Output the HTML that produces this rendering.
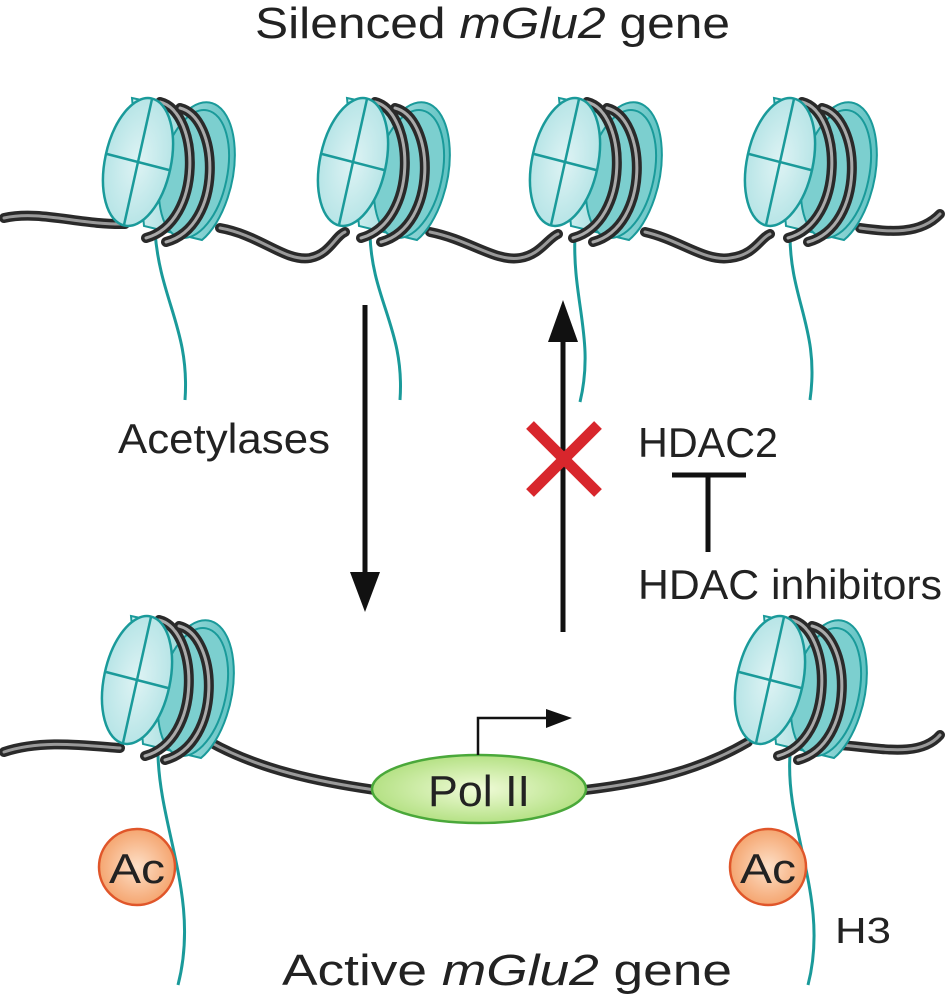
<!DOCTYPE html>
<html><head><meta charset="utf-8"><style>
html,body{margin:0;padding:0;background:#fff;}
svg{display:block;}
text{font-family:"Liberation Sans",sans-serif;fill:#222;}
</style></head><body>
<svg width="946" height="994" viewBox="0 0 946 994">
<defs>
<linearGradient id="cyl" x1="0" y1="0" x2="1" y2="0">
<stop offset="0" stop-color="#d9f2f3"/><stop offset="1" stop-color="#5fc2c2"/></linearGradient>
<radialGradient id="face" cx="0.5" cy="0.5" r="0.6"><stop offset="0" stop-color="#def3f4"/><stop offset="1" stop-color="#b0e2e4"/></radialGradient>
<radialGradient id="pol" cx="0.5" cy="0.5" r="0.6"><stop offset="0" stop-color="#f0fbd8"/><stop offset="1" stop-color="#a9dc74"/></radialGradient>
<radialGradient id="ac" cx="0.5" cy="0.5" r="0.6"><stop offset="0" stop-color="#fde0c8"/><stop offset="1" stop-color="#f39a5f"/></radialGradient>
<g id="nuc">
<path d="M -6,-64 L 50,-52 A 33 65 12 0 1 64,78 L 6,64 Z" fill="url(#cyl)" stroke="#1a9a9a" stroke-width="2"/>
<ellipse cx="56" cy="12" rx="33" ry="65" transform="rotate(12 56 12)" fill="#7ccfcf" stroke="#1a9a9a" stroke-width="2"/>
<path d="M 22,-60 C 62,-50 66,60 8,76" fill="none" stroke="#2a2a2a" stroke-width="10" stroke-linecap="round"/>
<path d="M 22,-60 C 62,-50 66,60 8,76" fill="none" stroke="#aaa" stroke-width="3" stroke-linecap="round"/>
<path d="M 42,-54 C 82,-44 86,64 28,80" fill="none" stroke="#2a2a2a" stroke-width="10" stroke-linecap="round"/>
<path d="M 42,-54 C 82,-44 86,64 28,80" fill="none" stroke="#aaa" stroke-width="3" stroke-linecap="round"/>
<ellipse cx="0" cy="0" rx="33" ry="65" transform="rotate(12)" fill="url(#face)" stroke="#1a9a9a" stroke-width="2.5"/>
<line x1="14" y1="-63" x2="-14" y2="63" stroke="#1a9a9a" stroke-width="2.5"/>
<line x1="-31" y1="-8" x2="31" y2="8" stroke="#1a9a9a" stroke-width="2.5"/>
</g>
</defs>

<text x="255" y="38" font-size="44" textLength="475" lengthAdjust="spacingAndGlyphs">Silenced <tspan font-style="italic">mGlu2</tspan> gene</text>

<path d="M 4,218 C 40,210 80,225 125,224 M 220,228 C 260,235 285,262 310,258 C 330,254 335,236 345,232 M 430,232 C 470,240 495,262 520,258 C 540,255 548,238 558,234 M 645,232 C 680,240 705,262 730,258 C 755,255 760,238 770,234 M 860,228 C 890,232 920,235 940,214" fill="none" stroke="#2a2a2a" stroke-width="10" stroke-linecap="round"/>
<path d="M 4,218 C 40,210 80,225 125,224 M 220,228 C 260,235 285,262 310,258 C 330,254 335,236 345,232 M 430,232 C 470,240 495,262 520,258 C 540,255 548,238 558,234 M 645,232 C 680,240 705,262 730,258 C 755,255 760,238 770,234 M 860,228 C 890,232 920,235 940,214" fill="none" stroke="#9a9a9a" stroke-width="3" stroke-linecap="round"/>

<path d="M 155,232 C 160,300 190,330 185,400" fill="none" stroke="#1a9a9a" stroke-width="3"/>
<path d="M 370,235 C 372,300 405,330 400,400" fill="none" stroke="#1a9a9a" stroke-width="3"/>
<path d="M 575,235 C 572,300 595,340 580,402" fill="none" stroke="#1a9a9a" stroke-width="3"/>
<path d="M 790,235 C 790,300 820,330 810,400" fill="none" stroke="#1a9a9a" stroke-width="3"/>

<use href="#nuc" x="138" y="162"/>
<use href="#nuc" x="353" y="162"/>
<use href="#nuc" x="565" y="162"/>
<use href="#nuc" x="780" y="162"/>

<g>
<line x1="365" y1="305" x2="365" y2="580" stroke="#111" stroke-width="5"/>
<path d="M 350,572 L 380,572 L 365,612 Z" fill="#111"/>
</g>
<g>
<line x1="563" y1="632" x2="563" y2="335" stroke="#111" stroke-width="5"/>
<path d="M 548,342 L 578,342 L 563,300 Z" fill="#111"/>
</g>
<g>
<line x1="530" y1="425" x2="598" y2="493" stroke="#d8262c" stroke-width="11"/>
<line x1="598" y1="425" x2="530" y2="493" stroke="#d8262c" stroke-width="11"/>
</g>
<text x="118" y="453" font-size="42" textLength="212" lengthAdjust="spacingAndGlyphs">Acetylases</text>
<text x="638" y="457" font-size="42" textLength="140" lengthAdjust="spacingAndGlyphs">HDAC2</text>
<g>
<line x1="672" y1="475" x2="746" y2="475" stroke="#111" stroke-width="5"/>
<line x1="708" y1="475" x2="708" y2="552" stroke="#111" stroke-width="5"/>
</g>
<text x="638" y="599" font-size="42" textLength="304" lengthAdjust="spacingAndGlyphs">HDAC inhibitors</text>

<path d="M 4,752 C 40,740 80,745 120,748 M 210,742 C 260,770 320,782 375,790 M 585,790 C 650,782 700,770 748,742 M 840,745 C 880,748 920,758 940,735" fill="none" stroke="#2a2a2a" stroke-width="10" stroke-linecap="round"/>
<path d="M 4,752 C 40,740 80,745 120,748 M 210,742 C 260,770 320,782 375,790 M 585,790 C 650,782 700,770 748,742 M 840,745 C 880,748 920,758 940,735" fill="none" stroke="#9a9a9a" stroke-width="3" stroke-linecap="round"/>

<path d="M 158,755 C 160,830 200,900 178,985" fill="none" stroke="#1a9a9a" stroke-width="3"/>
<path d="M 790,755 C 785,830 830,900 808,985" fill="none" stroke="#1a9a9a" stroke-width="3"/>

<use href="#nuc" x="137" y="680"/>
<use href="#nuc" x="770" y="680"/>

<g>
<ellipse cx="479" cy="789" rx="107" ry="34" fill="url(#pol)" stroke="#4aa83a" stroke-width="2.5"/>
<text x="479" y="806" font-size="44" text-anchor="middle" textLength="102" lengthAdjust="spacingAndGlyphs">Pol II</text>
</g>
<g>
<path d="M 478,755 L 478,718 L 552,718" fill="none" stroke="#111" stroke-width="2.5"/>
<path d="M 546,709 L 572,718 L 546,728 Z" fill="#111"/>
</g>

<g>
<circle cx="137" cy="867" r="38" fill="url(#ac)" stroke="#e0562a" stroke-width="2.5"/>
<text x="137" y="883" font-size="42" text-anchor="middle" textLength="56" lengthAdjust="spacingAndGlyphs">Ac</text>
</g>
<g>
<circle cx="768" cy="867" r="38" fill="url(#ac)" stroke="#e0562a" stroke-width="2.5"/>
<text x="768" y="883" font-size="42" text-anchor="middle" textLength="56" lengthAdjust="spacingAndGlyphs">Ac</text>
</g>
<text x="835" y="943" font-size="36" textLength="56" lengthAdjust="spacingAndGlyphs">H3</text>

<text x="282" y="985" font-size="44" textLength="450" lengthAdjust="spacingAndGlyphs">Active <tspan font-style="italic">mGlu2</tspan> gene</text>
</svg>
</body></html>
